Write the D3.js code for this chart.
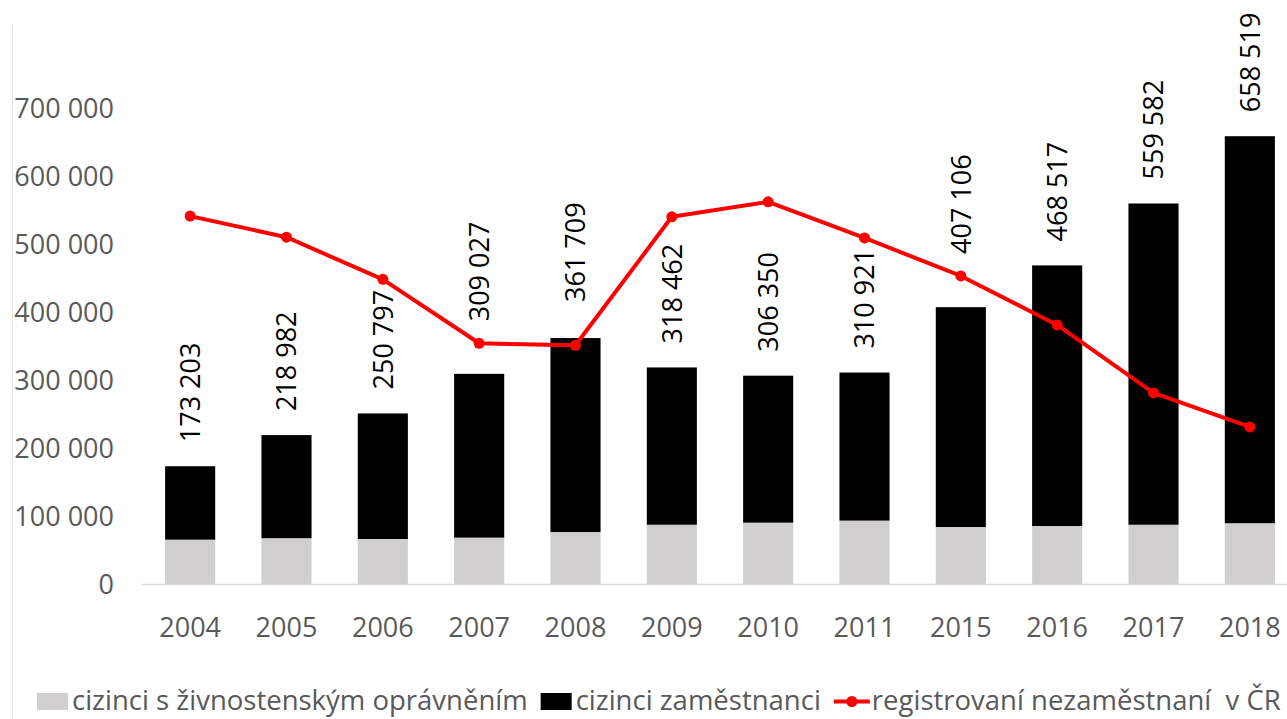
<!DOCTYPE html>
<html>
<head>
<meta charset="utf-8">
<script src="https://cdn.jsdelivr.net/npm/d3@7"></script>
<style>
  html, body { margin: 0; padding: 0; background: #fff; }
  svg { display: block; font-family: "Open Sans", sans-serif; }
  .legend text { white-space: pre; }
</style>
</head>
<body>
<svg id="chart" width="1287" height="719"></svg>
<script>
// data
const years = ["2004", "2005", "2006", "2007", "2008", "2009", "2010", "2011", "2015", "2016", "2017", "2018"];
const totals = [173203, 218982, 250797, 309027, 361709, 318462, 306350, 310921, 407106, 468517, 559582, 658519];
const tradeLicence = [65000, 67000, 66000, 68000, 76000, 87000, 90000, 93000, 83500, 85000, 87000, 89000];
const unemployed = [541000, 510000, 448000, 354000, 351000, 540000, 562000, 509000, 453000, 381000, 281000, 231000];
const yTicks = [0, 100000, 200000, 300000, 400000, 500000, 600000, 700000];
const legendLabels = ["cizinci s živnostenským oprávněním", "cizinci zaměstnanci", "registrovaní nezaměstnaní  v ČR"];

const svg = d3.select("#chart");
const grey = "#d0cece";
const red = "#ff0000";
const textGrey = "#595959";

const x = d3.scaleBand()
  .domain(years)
  .range([142, 1298])
  .paddingInner(0.48)
  .paddingOuter(0.24);

const y = d3.scaleLinear()
  .domain([0, 700000])
  .range([584, 108]);

const fmt = v => d3.format(",")(v).replace(/,/g, " ");

// left edge of the chart frame
svg.append("line")
  .attr("x1", 12.5).attr("x2", 12.5)
  .attr("y1", 25).attr("y2", 719)
  .attr("stroke", "#e6e6e6");

// y axis labels (no axis line)
svg.append("g")
  .selectAll("text")
  .data(yTicks)
  .join("text")
  .attr("x", 114)
  .attr("y", d => y(d))
  .attr("dy", "0.36em")
  .attr("text-anchor", "end")
  .attr("fill", textGrey)
  .attr("font-size", "27px")
  .text(d => fmt(d));

const rows = years.map((yr, i) => ({
  year: yr,
  total: totals[i],
  trade: tradeLicence[i],
  unemp: unemployed[i]
}));

// stacked bars
const bars = svg.append("g");
bars.selectAll("rect.emp")
  .data(rows)
  .join("rect")
  .attr("class", "emp")
  .attr("x", d => x(d.year))
  .attr("width", x.bandwidth())
  .attr("y", d => y(d.total))
  .attr("height", d => y(d.trade) - y(d.total))
  .attr("fill", "#000");

bars.selectAll("rect.trade")
  .data(rows)
  .join("rect")
  .attr("class", "trade")
  .attr("x", d => x(d.year))
  .attr("width", x.bandwidth())
  .attr("y", d => y(d.trade))
  .attr("height", d => y(0) - y(d.trade))
  .attr("fill", grey);

// x axis line + year labels
svg.append("line")
  .attr("x1", 142).attr("x2", 1287)
  .attr("y1", y(0) + 0.5).attr("y2", y(0) + 0.5)
  .attr("stroke", "#d9d9d9")
  .attr("stroke-width", 1.5);

svg.append("g")
  .selectAll("text")
  .data(years)
  .join("text")
  .attr("x", d => x(d) + x.bandwidth() / 2)
  .attr("y", 637)
  .attr("text-anchor", "middle")
  .attr("fill", textGrey)
  .attr("font-size", "27px")
  .text(d => d);

// unemployment line
const cx = d => x(d.year) + x.bandwidth() / 2;
svg.append("path")
  .datum(rows)
  .attr("fill", "none")
  .attr("stroke", red)
  .attr("stroke-width", 4)
  .attr("stroke-linejoin", "round")
  .attr("d", d3.line().x(cx).y(d => y(d.unemp)));

svg.append("g")
  .selectAll("circle")
  .data(rows)
  .join("circle")
  .attr("cx", cx)
  .attr("cy", d => y(d.unemp))
  .attr("r", 5.5)
  .attr("fill", red);

// total labels, rotated; lifted above the line where it sits just over the bar
function labelAnchor(d) {
  const top = y(d.total);
  const ly = y(d.unemp);
  if (ly < top && top - ly < 80) return ly - 22;
  if (ly > top && ly - top < 20) return top - 36;
  return top - 24;
}

svg.append("g")
  .selectAll("text")
  .data(rows)
  .join("text")
  .attr("transform", d => `translate(${cx(d)},${labelAnchor(d)}) rotate(-90)`)
  .attr("dy", "0.36em")
  .attr("text-anchor", "start")
  .attr("fill", "#000")
  .attr("font-size", "27px")
  .text(d => fmt(d.total));

// legend
const legend = svg.append("g")
  .attr("class", "legend")
  .attr("font-size", "27.5px")
  .attr("fill", textGrey);
let lx = 37;
legendLabels.forEach((label, i) => {
  if (i < 2) {
    legend.append("rect")
      .attr("x", lx).attr("y", 693)
      .attr("width", 31).attr("height", 17)
      .attr("fill", i === 0 ? grey : "#000");
    lx += 35;
  } else {
    legend.append("line")
      .attr("x1", lx).attr("x2", lx + 36)
      .attr("y1", 701.5).attr("y2", 701.5)
      .attr("stroke", red).attr("stroke-width", 4);
    legend.append("circle")
      .attr("cx", lx + 18).attr("cy", 701.5).attr("r", 5.5)
      .attr("fill", red);
    lx += 38;
  }
  const t = legend.append("text")
    .attr("x", lx).attr("y", 710)
    .attr("xml:space", "preserve")
    .text(label);
  lx += t.node().getComputedTextLength() + 13;
});
</script>
</body>
</html>
